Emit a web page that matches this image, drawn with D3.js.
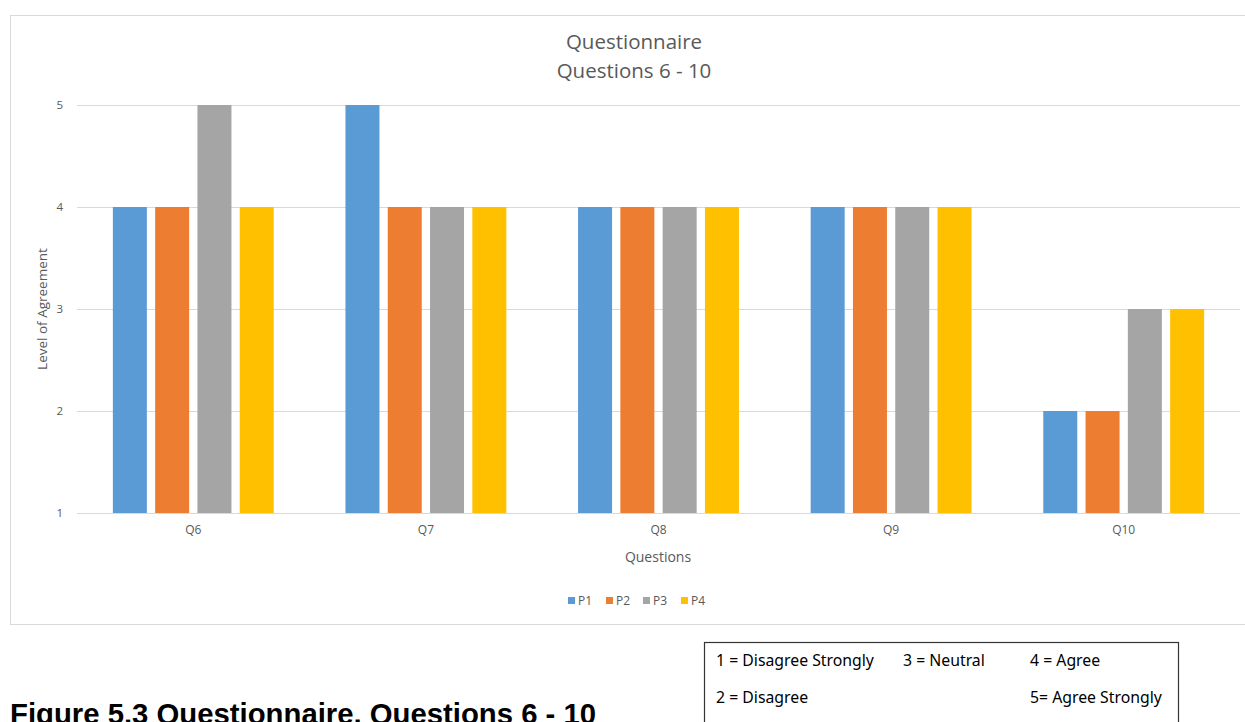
<!DOCTYPE html>
<html><head><meta charset="utf-8">
<script src="https://cdn.jsdelivr.net/npm/d3@7"></script>
<style>body{margin:0;background:#fff;}svg{display:block;}</style>
</head><body>
<svg id="c" width="1245" height="722"></svg>
<script>
const categories = ["Q6","Q7","Q8","Q9","Q10"];
const seriesNames = ["P1","P2","P3","P4"];
const P1 = [4,5,4,4,2];
const P2 = [4,4,4,4,2];
const P3 = [5,4,4,4,3];
const P4 = [4,4,4,4,3];
const yTicks = [1,2,3,4,5];
const colors = ["#5B9BD5","#ED7D31","#A5A5A5","#FFC000"];
const keyRows = [
  ["1 = Disagree Strongly","3 = Neutral","4 = Agree"],
  ["2 = Disagree","","5= Agree Strongly"]
];
const values = [P1,P2,P3,P4];

const svg = d3.select("#c");
const font = "'Open Sans', 'Noto Sans', sans-serif";
const txt = "#595959";

// chart frame
svg.append("rect").attr("x",10.5).attr("y",15.5).attr("width",1240).attr("height",609)
  .attr("fill","#fff").attr("stroke","#D9D9D9").attr("stroke-width",1);

const x0 = d3.scaleBand().domain(categories).range([77,1240]).paddingInner(0).paddingOuter(0);
const x1 = d3.scaleBand().domain(seriesNames).range([0,x0.bandwidth()]).paddingInner(0.196).paddingOuter(0.848);
const y = d3.scaleLinear().domain([1,5]).range([513,105]);

// gridlines
svg.append("g").selectAll("line").data(yTicks).join("line")
  .attr("x1",77).attr("x2",1240).attr("y1",d=>y(d)+0.5).attr("y2",d=>y(d)+0.5)
  .attr("stroke","#D9D9D9").attr("stroke-width",1);

// bars
const g = svg.append("g");
categories.forEach((c,i)=>{
  seriesNames.forEach((s,j)=>{
    g.append("rect").attr("x",x0(c)+x1(s)).attr("width",x1.bandwidth())
      .attr("y",y(values[j][i])).attr("height",y(1)-y(values[j][i]))
      .attr("fill",colors[j]);
  });
});

// y axis labels
const yAxis = d3.axisLeft(y).tickValues(yTicks).tickSize(0).tickPadding(0).tickFormat(d3.format("d"));
const ya = svg.append("g").attr("transform","translate(63,0)").call(yAxis);
ya.select(".domain").remove();
ya.selectAll("text").attr("font-family",font).attr("font-size",11.5).attr("fill",txt);

// x axis labels
const xAxis = d3.axisBottom(x0).tickSize(0).tickPadding(0);
const xa = svg.append("g").attr("transform","translate(0,525)").call(xAxis);
xa.select(".domain").remove();
xa.selectAll("text").attr("font-family",font).attr("font-size",12).attr("fill",txt);

// titles
svg.append("text").attr("x",634).attr("y",49).attr("text-anchor","middle")
  .attr("font-family",font).attr("font-size",20.5).attr("fill",txt).text("Questionnaire");
svg.append("text").attr("x",634).attr("y",78).attr("text-anchor","middle")
  .attr("font-family",font).attr("font-size",20.5).attr("fill",txt).text("Questions 6 - 10");
svg.append("text").attr("x",658).attr("y",562).attr("text-anchor","middle")
  .attr("font-family",font).attr("font-size",14).attr("fill",txt).text("Questions");
svg.append("text").attr("transform","translate(47,309) rotate(-90)").attr("text-anchor","middle")
  .attr("font-family",font).attr("font-size",13.5).attr("fill",txt).text("Level of Agreement");

// legend
const leg = svg.append("g");
const legX = [568,606,643,681];
seriesNames.forEach((s,j)=>{
  leg.append("rect").attr("x",legX[j]).attr("y",597).attr("width",7).attr("height",7).attr("fill",colors[j]);
  leg.append("text").attr("x",legX[j]+10).attr("y",604.5).attr("font-family",font).attr("font-size",12)
    .attr("fill",txt).text(s);
});

// caption
svg.append("text").attr("x",10).attr("y",724).attr("font-family","'Liberation Sans', Arial, sans-serif")
  .attr("font-weight","bold").attr("font-size",29.3).attr("fill","#000").text("Figure 5.3 Questionnaire, Questions 6 - 10");

// key box
svg.append("rect").attr("x",704.5).attr("y",642.5).attr("width",474).attr("height",100)
  .attr("fill","#fff").attr("stroke","#333").attr("stroke-width",1.2);
const colX = [716,903,1030];
const rowY = [666,703];
keyRows.forEach((row,r)=>{
  row.forEach((t,k)=>{
    if(!t) return;
    svg.append("text").attr("x",colX[k]).attr("y",rowY[r]).attr("font-family","'Noto Sans', sans-serif")
      .attr("font-size",15.8).attr("fill","#000").text(t);
  });
});
</script>
</body></html>
